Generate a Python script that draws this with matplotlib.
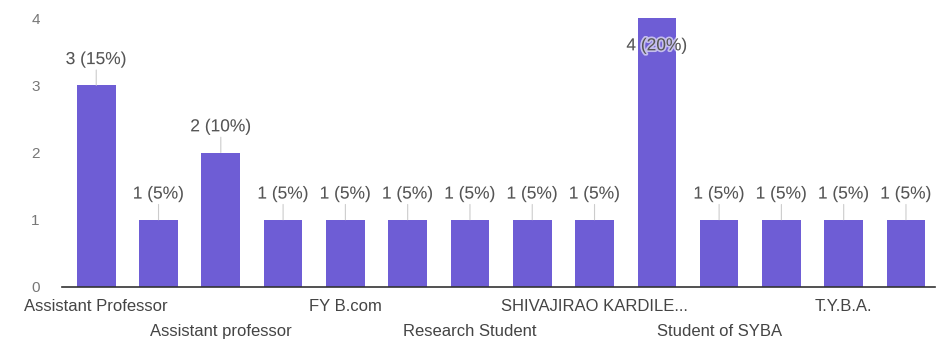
import matplotlib.pyplot as plt
import matplotlib.patheffects as pe

plt.rcParams['font.family'] = ['Liberation Sans', 'DejaVu Sans']

# responses per answer, only every other category name is shown on the axis
categories = ["Assistant Professor", "", "Assistant professor", "", "FY B.com", "",
              "Research Student", "", "SHIVAJIRAO KARDILE...", "", "Student of SYBA", "",
              "T.Y.B.A.", ""]
counts = [3, 1, 2, 1, 1, 1, 1, 1, 1, 4, 1, 1, 1, 1]
percents = [15, 5, 10, 5, 5, 5, 5, 5, 5, 20, 5, 5, 5, 5]
yticks = [0, 1, 2, 3, 4]

BAR = "#6e5dd5"
TXT = "#555555"

fig = plt.figure(figsize=(9.39, 3.47), dpi=100)
ax = fig.add_axes([0.066, 0.173, 0.93, 0.775])

x = list(range(len(counts)))
ax.bar(x, counts, width=0.62, color=BAR, zorder=2)

ax.set_xlim(-0.55, 13.47)
ax.set_ylim(0, 4)
ax.set_yticks(yticks)
ax.set_yticklabels([str(t) for t in yticks], fontsize=11, color="#777777")
ax.tick_params(axis="y", length=0, pad=16)
ax.set_xticks([])

for s in ["top", "right", "left"]:
    ax.spines[s].set_visible(False)
ax.spines["bottom"].set_color("#333333")
ax.spines["bottom"].set_linewidth(1.2)

# value annotations with a short leader line
halo = [pe.withStroke(linewidth=2.5, foreground="white", alpha=0.6)]
for i, (c, p) in enumerate(zip(counts, percents)):
    label = f"{c} ({p}%)"
    if c >= max(counts):
        ax.annotate(label, xy=(i, c), xytext=(0, -20), textcoords="offset points",
                    ha="center", va="center", fontsize=12.5, color=TXT,
                    path_effects=halo, annotation_clip=False)
        continue
    ax.annotate("", xy=(i, c), xytext=(0, 11), textcoords="offset points",
                arrowprops=dict(arrowstyle="-", color="#cccccc", lw=0.8,
                                shrinkA=0, shrinkB=0), annotation_clip=False)
    ax.annotate(label, xy=(i, c), xytext=(0, 18.5), textcoords="offset points",
                ha="center", va="center", fontsize=12.5, color=TXT,
                path_effects=halo, annotation_clip=False)

# category names staggered over two rows
row = 0
for i, name in enumerate(categories):
    if not name:
        continue
    off = -14 if row == 0 else -32
    ax.annotate(name, xy=(i, 0), xytext=(0, off), textcoords="offset points",
                ha="center", va="center", fontsize=12, color="#444444",
                annotation_clip=False)
    row = 1 - row

fig.savefig("out.png", dpi=100, facecolor="white")
